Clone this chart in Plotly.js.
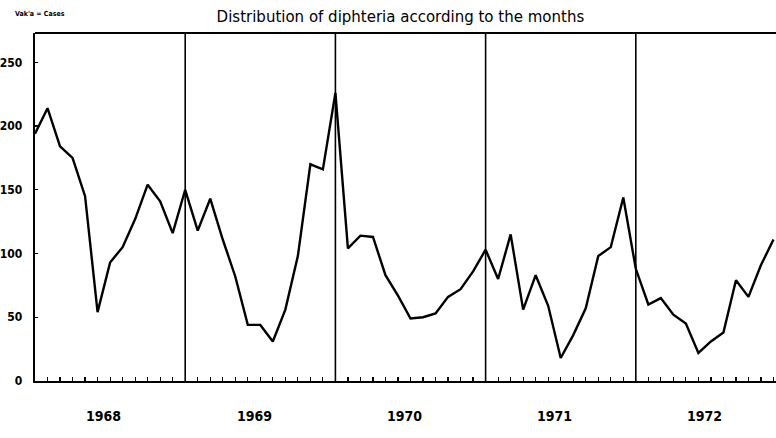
<!DOCTYPE html>
<html>
<head>
<meta charset="utf-8">
<script src="https://cdn.plot.ly/plotly-3.0.1.min.js"></script>
<style>html,body{margin:0;padding:0;background:#fff;}#chart{width:776px;height:438px;}</style>
</head>
<body>
<div id="chart"></div>
<script>
// Monthly diphtheria cases, Jan 1968 – Dec 1972
var years = ["1968", "1969", "1970", "1971", "1972"];
var cases1968 = [194, 214, 184, 175, 145, 54, 93, 105, 127, 154, 141, 116];
var cases1969 = [150, 118, 143, 111, 82, 44, 44, 31, 56, 98, 170, 166];
var cases1970 = [226, 104, 114, 113, 83, 67, 49, 50, 53, 66, 72, 86];
var cases1971 = [103, 80, 115, 56, 83, 59, 18, 36, 57, 98, 105, 144];
var cases1972 = [88, 60, 65, 52, 45, 22, 31, 38, 79, 66, 91, 111];
var yTicks = [0, 50, 100, 150, 200, 250];
var titleText = "Distribution of diphteria according to the months";
var unitNote = "Vak'a = Cases";

var series = [cases1968, cases1969, cases1970, cases1971, cases1972];
var y = [];
series.forEach(function (s) { y = y.concat(s); });
var x = y.map(function (_, i) { return i; });

var shapes = [];
for (var k = 1; k < years.length; k++) {
  shapes.push({type: "line", xref: "x", yref: "paper", x0: k * 12, x1: k * 12, y0: 0, y1: 1,
    line: {color: "#000", width: 1.6}});
}
shapes.push({type: "line", xref: "paper", yref: "paper", x0: 0, x1: 1, y0: 1, y1: 1,
  line: {color: "#000", width: 2.2}});

var annotations = years.map(function (yr, k) {
  return {text: yr, x: k * 12 + 5.5, xref: "x", y: 0, yref: "paper", yanchor: "top",
    yshift: -25, showarrow: false,
    font: {family: "DejaVu Sans Condensed, DejaVu Sans", size: 14, color: "#000", weight: "bold"}};
});
annotations.push({text: unitNote, x: -22 / 741, xref: "paper", xanchor: "left", y: 1, yref: "paper",
  yshift: 13, yanchor: "bottom", showarrow: false,
  font: {family: "DejaVu Sans Condensed, DejaVu Sans", size: 7, color: "#000", weight: "bold"}});

var trace = {x: x, y: y, type: "scatter", mode: "lines",
  line: {color: "#000", width: 2.4}, hoverinfo: "x+y"};

var layout = {
  width: 776, height: 438,
  margin: {l: 35, r: 0, t: 33, b: 57},
  paper_bgcolor: "#fff", plot_bgcolor: "#fff",
  showlegend: false,
  title: {text: titleText, x: 0.516, xanchor: "center", y: 0.962, yanchor: "middle",
    font: {family: "DejaVu Sans", size: 15, color: "#000"}},
  xaxis: {range: [0, 59.2], showgrid: false, zeroline: false, showline: true, mirror: false,
    linecolor: "#000", linewidth: 2.4, ticks: "inside", ticklen: 4, tickwidth: 1.2, tickcolor: "#000",
    tickmode: "linear", tick0: 0, dtick: 1, showticklabels: false},
  yaxis: {range: [0, 273], showgrid: false, zeroline: false, showline: true, linecolor: "#000",
    linewidth: 2.4, ticks: "inside", ticklen: 3, tickwidth: 1.2, tickcolor: "#000",
    tickvals: yTicks, ticktext: yTicks.map(String), ticklabelstandoff: 8,
    tickfont: {family: "DejaVu Sans Condensed, DejaVu Sans", size: 12, color: "#000", weight: "bold"}},
  shapes: shapes,
  annotations: annotations
};

Plotly.newPlot("chart", [trace], layout, {displayModeBar: false, staticPlot: true});
</script>
</body>
</html>
